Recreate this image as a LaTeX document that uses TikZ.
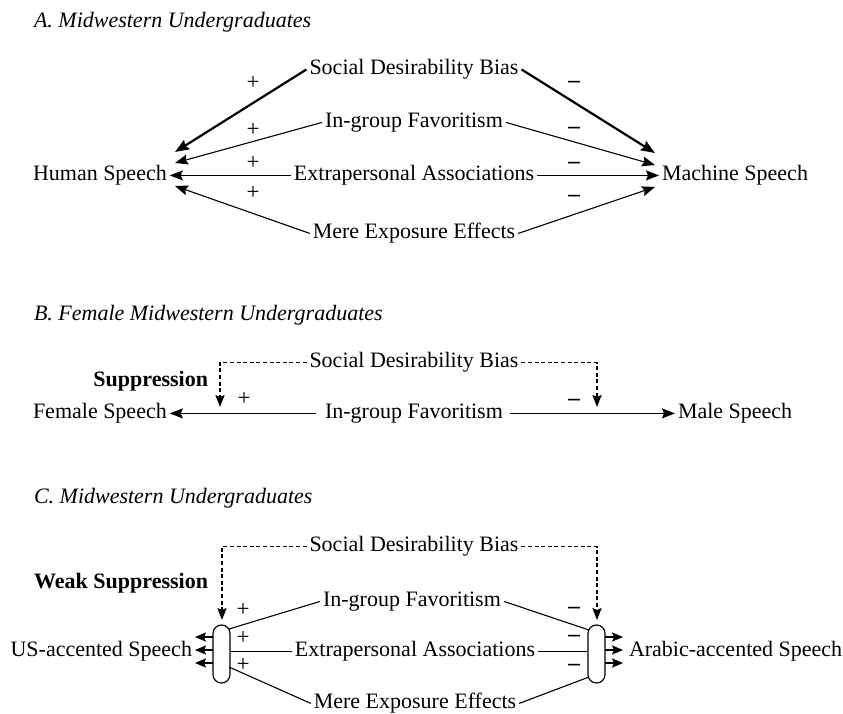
\documentclass[tikz,border=0pt]{standalone}
\usepackage{fontspec}
\setmainfont{Liberation Serif}
\usetikzlibrary{arrows.meta,calc}
\begin{document}
\begin{tikzpicture}[x=0.5pt,y=-0.5pt,
  lbl/.style={inner sep=1.5pt, outer sep=0pt, font=\fontsize{11}{13}\selectfont},
  ttl/.style={lbl, font=\fontsize{11}{13}\selectfont\itshape, anchor=base west},
  bld/.style={lbl, font=\fontsize{11}{13}\selectfont\bfseries, anchor=base east},
  sgn/.style={inner sep=0pt, font=\fontsize{11.5}{13}\selectfont},
  msgn/.style={inner sep=0pt, font=\fontsize{11.5}{13}\selectfont\bfseries},
  conn/.style={line width=0.55pt, -{Stealth[length=6.5pt,width=5pt,inset=1pt]}},
  thickconn/.style={line width=1.1pt, -{Stealth[length=7pt,width=5.4pt,inset=1pt]}},
  smallconn/.style={line width=0.55pt, -{Stealth[length=5.5pt,width=4.6pt,inset=1pt]}},
  plainline/.style={line width=0.55pt},
  dashconn/.style={line width=0.7pt, dash pattern=on 2pt off 1.3pt, -{Stealth[length=6pt,width=4.6pt,inset=1pt]}},
  capsule/.style={draw, line width=0.6pt, minimum width=8.5pt, minimum height=29pt, rounded corners=4.2pt, inner sep=0pt}
]
\useasboundingbox (0,0) rectangle (843,714);

% ---------------- Panel A ----------------
\node[ttl] (tA) at (31,27) {A. Midwestern Undergraduates};
\node[lbl, anchor=base] (sdbA) at (414,74) {Social Desirability Bias};
\node[lbl, anchor=base] (igA) at (414,127) {In-group Favoritism};
\node[lbl, anchor=base] (eaA) at (414,180) {Extrapersonal Associations};
\node[lbl, anchor=base] (meA) at (414,238) {Mere Exposure Effects};
\node[lbl, anchor=base west] (hsA) at (30,180) {Human Speech};
\node[lbl, anchor=base west] (msA) at (659,180) {Machine Speech};

\coordinate (hsA1) at (175,152);
\coordinate (hsA2) at (175,163);
\coordinate (hsA4) at (175,186);
\coordinate (msA1) at (655,153);
\coordinate (msA2) at (655,165);
\coordinate (msA4) at (655,187);

\draw[thickconn] (sdbA.mid west) -- (hsA1);
\draw[conn] (igA.mid west) -- (hsA2);
\draw[conn] (eaA.mid west) -- (hsA.mid east);
\draw[conn] (meA.mid west) -- (hsA4);
\draw[thickconn] (sdbA.mid east) -- (msA1);
\draw[conn] (igA.mid east) -- (msA2);
\draw[conn] (eaA.mid east) -- (msA.mid west);
\draw[conn] (meA.mid east) -- (msA4);

\node[sgn] (pA1) at (253,83) {+};
\node[sgn] (pA2) at (253,130) {+};
\node[sgn] (pA3) at (253,163) {+};
\node[sgn] (pA4) at (253,193) {+};
\node[msgn] (mA1) at (574,84) {–};
\node[msgn] (mA2) at (574,130) {–};
\node[msgn] (mA3) at (574,165) {–};
\node[msgn] (mA4) at (574,198) {–};

% ---------------- Panel B ----------------
\node[ttl] (tB) at (31,320) {B. Female Midwestern Undergraduates};
\node[lbl, anchor=base] (sdbB) at (414,367) {Social Desirability Bias};
\node[bld] (supB) at (211,386) {Suppression};
\node[lbl, anchor=base west] (fsB) at (30,418) {Female Speech};
\node[lbl, anchor=base] (igB) at (414,418) {In-group Favoritism};
\node[lbl, anchor=base west] (mlB) at (675,418) {Male Speech};

\coordinate (dB1) at (220,407);
\coordinate (dB2) at (597,407);
\draw[dashconn] (sdbB.mid west) -| (dB1);
\draw[dashconn] (sdbB.mid east) -| (dB2);
\draw[conn, shorten <=3pt] (igB.mid west) -- (fsB.mid east);
\draw[conn, shorten <=2pt] (igB.mid east) -- (mlB.mid west);

\node[sgn] (pB) at (244,399) {+};
\node[msgn] (mB) at (574,402) {–};

% ---------------- Panel C ----------------
\node[ttl] (tC) at (31,503) {C. Midwestern Undergraduates};
\node[lbl, anchor=base] (sdbC) at (414,551) {Social Desirability Bias};
\node[bld] (supC) at (211,588) {Weak Suppression};
\node[lbl, anchor=base] (igC) at (412,606) {In-group Favoritism};
\node[lbl, anchor=base] (eaC) at (415,656) {Extrapersonal Associations};
\node[lbl, anchor=base] (meC) at (415,708) {Mere Exposure Effects};
\node[lbl, anchor=base east] (usC) at (195,656) {US-accented Speech};
\node[lbl, anchor=base west] (arC) at (626,656) {Arabic-accented Speech};

\node[capsule] (capL) at (221.5,654) {};
\node[capsule] (capR) at (596.5,654) {};

\coordinate (dC1) at (222,620);
\coordinate (dC2) at (597,620);
\draw[dashconn] (sdbC.mid west) -| (dC1);
\draw[dashconn] (sdbC.mid east) -| (dC2);

\coordinate (cL1) at (229,629);
\coordinate (cL3) at (229,667);
\coordinate (cR1) at (589,630);
\coordinate (cR3) at (589,677);
\draw[plainline] (igC.mid west) -- (cL1);
\draw[plainline] (eaC.mid west) -- (eaC.mid west -| capL.east);
\draw[plainline] (meC.mid west) -- (cL3);
\draw[plainline] (igC.mid east) -- (cR1);
\draw[plainline] (eaC.mid east) -- (eaC.mid east -| capR.west);
\draw[plainline] (meC.mid east) -- (cR3);

\coordinate (aL1) at (213,637);
\coordinate (aL2) at (213,650);
\coordinate (aL3) at (213,663);
\coordinate (tL1) at (195,637);
\coordinate (tL2) at (195,650);
\coordinate (tL3) at (195,663);
\coordinate (aR1) at (605,637);
\coordinate (aR2) at (605,650);
\coordinate (aR3) at (605,663);
\coordinate (tR1) at (623,637);
\coordinate (tR2) at (623,650);
\coordinate (tR3) at (623,663);
\draw[smallconn] (aL1) -- (tL1);
\draw[smallconn] (aL2) -- (tL2);
\draw[smallconn] (aL3) -- (tL3);
\draw[smallconn] (aR1) -- (tR1);
\draw[smallconn] (aR2) -- (tR2);
\draw[smallconn] (aR3) -- (tR3);

\node[sgn] (pC1) at (243,610) {+};
\node[sgn] (pC2) at (243,638) {+};
\node[sgn] (pC3) at (243,665) {+};
\node[msgn] (mC1) at (574,610) {–};
\node[msgn] (mC2) at (574,638) {–};
\node[msgn] (mC3) at (574,667) {–};
\end{tikzpicture}
\end{document}
